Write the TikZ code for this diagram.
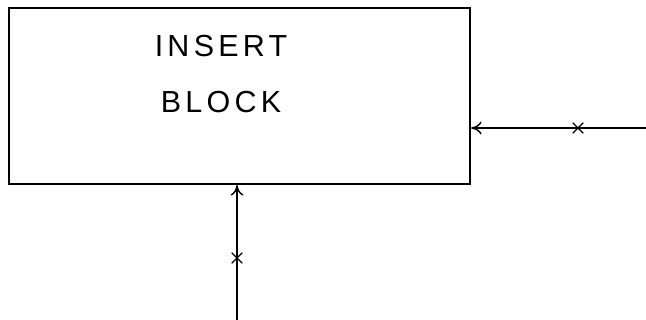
\documentclass[tikz,border=0pt]{standalone}
\usepackage{fontspec}
\newfontfamily\handfont[LetterSpace=14]{Liberation Sans}
\usetikzlibrary{arrows.meta}
\usetikzlibrary{shapes.misc}
\tikzset{
  blockbox/.style={draw, line width=1.8pt, minimum width=13.83cm, minimum height=5.28cm, inner sep=0pt},
  blocktext/.style={font=\handfont\fontsize{26}{28}\selectfont},
  sigline/.style={line width=1.2pt, -{To[length=9pt,width=11pt,line width=1.2pt]}},
  xmark/.style={cross out, draw, line width=1pt, minimum size=8pt, inner sep=0pt}
}

\begin{document}
\begin{tikzpicture}[x=0.03cm, y=-0.03cm]
        \useasboundingbox (0,0) rectangle (646,320);
        \node[blockbox] (insblock) at (239.5,96) {};
        \node[blocktext] (insword) at (221,46) {INSERT};
        \node[blocktext] (blkword) at (221,102) {BLOCK};

        \coordinate (rin) at (646,128);
        \coordinate (bin) at (237,320);
        \draw[sigline] (rin) -- (rin -| insblock.east);
        \draw[sigline] (bin) -- (bin |- insblock.south);

        \node[xmark] (rx) at (578,128) {};
        \node[xmark] (bx) at (237,258) {};
      \end{tikzpicture}
\end{document}
